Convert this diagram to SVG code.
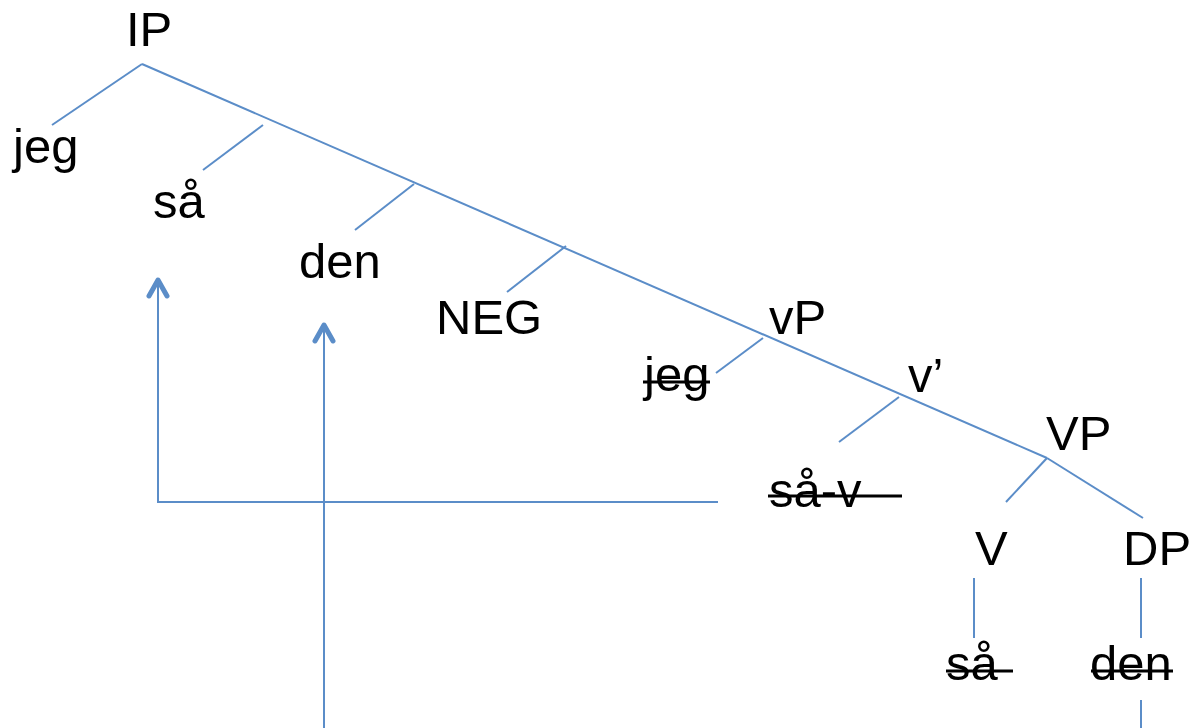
<svg xmlns="http://www.w3.org/2000/svg" width="1193" height="728" viewBox="0 0 1193 728">
<style>
  .t { font-family: "Liberation Sans", Arial, sans-serif; font-size: 49px; fill: #000; }
  .e { stroke: #5B8DC8; stroke-width: 2; fill: none; }
  .s { stroke: #000; stroke-width: 3; }
</style>
<defs>
  <marker id="chev" viewBox="-20 -12 24 24" refX="0" refY="0" markerWidth="24" markerHeight="24" markerUnits="userSpaceOnUse" orient="auto">
    <path d="M -16 -9 L 0 0 L -16 9" fill="none" stroke="#5B8DC8" stroke-width="5" stroke-linecap="round" stroke-linejoin="round"/>
  </marker>
</defs>
<rect width="1193" height="728" fill="#fff"/>
<g id="connectors">
  <line class="e" x1="142" y1="64" x2="1047" y2="458"/>
  <line class="e" x1="142" y1="64" x2="52" y2="125"/>
  <line class="e" x1="263" y1="125" x2="203" y2="170"/>
  <line class="e" x1="414" y1="184" x2="355" y2="230"/>
  <line class="e" x1="566" y1="246" x2="507" y2="292"/>
  <line class="e" x1="763" y1="338" x2="716" y2="373"/>
  <line class="e" x1="899" y1="397" x2="839" y2="442"/>
  <line class="e" x1="1047" y1="458" x2="1006" y2="502"/>
  <line class="e" x1="1047" y1="458" x2="1143" y2="518"/>
  <line class="e" x1="974" y1="578" x2="974" y2="638"/>
  <line class="e" x1="1141" y1="578" x2="1141" y2="638"/>
  <line class="e" x1="1141" y1="700" x2="1141" y2="728"/>
  <polyline class="e" points="718,502 158,502 158,280" marker-end="url(#chev)"/>
  <line class="e" x1="324" y1="728" x2="324" y2="325" marker-end="url(#chev)"/>
</g>
<g id="IP"><text class="t" x="126" y="46">IP</text></g>
<g id="jeg"><text class="t" x="13" y="163">jeg</text></g>
<g id="sa"><text class="t" x="153" y="218">så</text></g>
<g id="den"><text class="t" x="299" y="278">den</text></g>
<g id="NEG"><text class="t" x="436" y="334">NEG</text></g>
<g id="vP"><text class="t" x="769" y="334">vP</text></g>
<g id="jeg-trace"><text class="t" x="644" y="391">jeg</text><line class="s" x1="643" y1="382" x2="710" y2="382"/></g>
<g id="vbar"><text class="t" x="908" y="392">v’</text></g>
<g id="VP"><text class="t" x="1046" y="450">VP</text></g>
<g id="sa-v"><text class="t" x="769" y="507">så-v</text><line class="s" x1="768" y1="496" x2="902" y2="496"/></g>
<g id="V"><text class="t" x="975" y="565">V</text></g>
<g id="DP"><text class="t" x="1123" y="565">DP</text></g>
<g id="sa-trace"><text class="t" x="946" y="680">så</text><line class="s" x1="946" y1="671" x2="1013" y2="671"/></g>
<g id="den-trace"><text class="t" x="1090" y="680">den</text><line class="s" x1="1091" y1="671" x2="1173" y2="671"/></g>
</svg>
